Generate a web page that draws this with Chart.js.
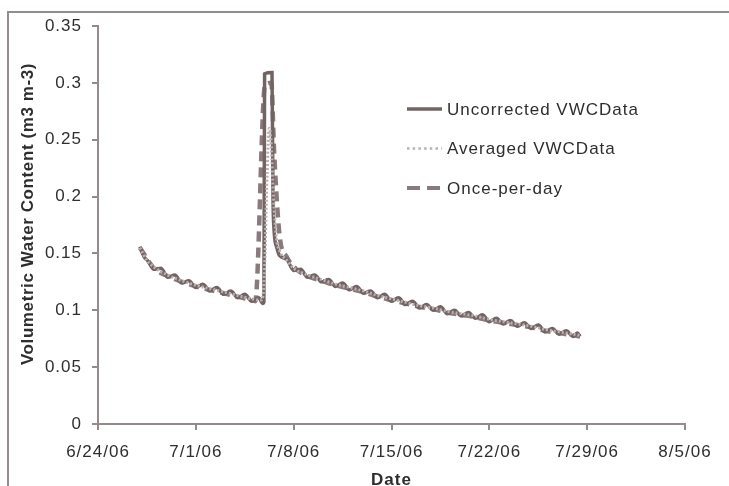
<!DOCTYPE html>
<html>
<head>
<meta charset="utf-8">
<script src="https://cdn.jsdelivr.net/npm/chart.js@4.4.0/dist/chart.umd.min.js"></script>
<style>
  html, body { margin: 0; padding: 0; background: #fff; overflow: hidden; }
  #wrap { width: 729px; height: 492px; }
</style>
</head>
<body>
<div id="wrap"><canvas id="vwcChart" width="729" height="492"></canvas></div>
<script>
// x values are days after 6/24/06
const xTickLabels = ["6/24/06", "7/1/06", "7/8/06", "7/15/06", "7/22/06", "7/29/06", "8/5/06"];

const uncorrectedDays = [3.0, 3.3, 3.6, 4.0, 4.5, 5.0, 5.5, 6.0, 6.5, 7.0, 7.5, 8.0, 8.5, 9.0, 9.5, 10.0, 10.5, 11.0, 11.5, 11.8, 11.87,
  11.92, 12.45, 12.52, 12.6, 12.8, 13.0, 13.5, 14.0, 14.5, 15.0, 15.5, 16.0, 16.5, 17.0, 17.5, 18.0, 18.5, 19.0, 19.5,
  20.0, 20.5, 21.0, 21.5, 22.0, 22.5, 23.0, 23.5, 24.0, 24.5, 25.0, 25.5, 26.0, 26.5, 27.0, 27.5, 28.0, 28.5, 29.0, 29.5,
  30.0, 30.5, 31.0, 31.5, 32.0, 32.5, 33.0, 33.5, 34.0, 34.3, 34.5];
const uncorrectedVWC = [0.156, 0.147, 0.143, 0.136, 0.137, 0.129, 0.131, 0.124, 0.126, 0.120, 0.123, 0.117, 0.120, 0.114, 0.117, 0.111, 0.114, 0.108, 0.111, 0.106, 0.107,
  0.308, 0.309, 0.200, 0.170, 0.155, 0.148, 0.145, 0.135, 0.136, 0.129, 0.131, 0.125, 0.127, 0.121, 0.124, 0.118, 0.121, 0.115, 0.117,
  0.111, 0.114, 0.108, 0.111, 0.105, 0.108, 0.102, 0.105, 0.100, 0.103, 0.097, 0.100, 0.095, 0.098, 0.093, 0.096, 0.090, 0.093, 0.088, 0.091,
  0.086, 0.089, 0.084, 0.087, 0.081, 0.084, 0.079, 0.082, 0.077, 0.080, 0.077];

const averagedDays = [3.0, 3.5, 4.0, 5.0, 6.0, 7.0, 8.0, 9.0, 10.0, 11.0, 11.7, 11.9, 12.1, 12.25, 12.4, 12.55, 12.75, 13.0, 13.5,
  14.0, 15.0, 16.0, 17.0, 18.0, 19.0, 20.0, 21.0, 22.0, 23.0, 24.0, 25.0, 26.0, 27.0, 28.0, 29.0, 30.0, 31.0, 32.0, 33.0, 34.0, 34.5];
const averagedVWC = [0.155, 0.144, 0.138, 0.131, 0.126, 0.122, 0.119, 0.116, 0.113, 0.110, 0.109, 0.130, 0.220, 0.260, 0.245, 0.200, 0.165, 0.152, 0.144,
  0.137, 0.131, 0.127, 0.123, 0.120, 0.117, 0.113, 0.110, 0.107, 0.104, 0.102, 0.099, 0.097, 0.095, 0.092, 0.090, 0.088, 0.086, 0.083, 0.081, 0.079, 0.078];

const dailyDays = [3.0, 4.0, 5.0, 6.0, 7.0, 8.0, 9.0, 10.0, 11.0, 11.25, 11.95, 12.4, 12.6, 13.0, 13.5, 14.2,
  15.0, 16.0, 17.0, 18.0, 19.0, 20.0, 21.0, 22.0, 23.0, 24.0, 25.0, 26.0, 27.0, 28.0, 29.0, 30.0, 31.0, 32.0, 33.0, 34.0, 34.5];
const dailyVWC = [0.155, 0.137, 0.130, 0.125, 0.121, 0.118, 0.115, 0.112, 0.109, 0.108, 0.298, 0.300, 0.240, 0.165, 0.147, 0.136,
  0.130, 0.126, 0.122, 0.119, 0.116, 0.112, 0.109, 0.106, 0.103, 0.101, 0.098, 0.096, 0.094, 0.091, 0.089, 0.087, 0.085, 0.082, 0.080, 0.078, 0.077];

function toPoints(days, vals) {
  return days.map((d, i) => ({ x: d, y: vals[i] }));
}

const axisColor = '#978a8a';
const textColor = '#2e2e2e';
const fontFamily = '"Liberation Sans", Arial, sans-serif';
const baseFont = { family: fontFamily, size: 17 };

// letter spacing so the text width matches the original, plus the outer frame
const spacingPlugin = {
  id: 'spacing',
  beforeUpdate(chart) { chart.ctx.letterSpacing = '1px'; },
  beforeDraw(chart) {
    const ctx = chart.ctx;
    ctx.letterSpacing = '1px';
    ctx.save();
    ctx.strokeStyle = axisColor;
    ctx.lineWidth = 2;
    ctx.strokeRect(8, 12, 800, 600);
    ctx.restore();
  }
};

const labelsPlugin = {
  id: 'insideLegend',
  afterDraw(chart) {
    const ctx = chart.ctx;
    ctx.save();
    chart.data.datasets.forEach((ds, i) => {
      const y = 109 + i * 39.5;
      ctx.beginPath();
      ctx.strokeStyle = ds.borderColor;
      ctx.lineWidth = ds.legendWidth;
      ctx.setLineDash(ds.legendDash);
      ctx.moveTo(407, y);
      ctx.lineTo(442, y);
      ctx.stroke();
      ctx.setLineDash([]);
      ctx.fillStyle = textColor;
      ctx.font = '17px ' + fontFamily;
      ctx.textBaseline = 'middle';
      ctx.fillText(ds.label, 447, y + 1);
    });
    // y axis title, centred a bit above the middle of the axis as in the original
    ctx.letterSpacing = '0.6px';
    ctx.font = 'bold 17px ' + fontFamily;
    ctx.translate(28, 214);
    ctx.rotate(-Math.PI / 2);
    ctx.textAlign = 'center';
    ctx.textBaseline = 'middle';
    ctx.fillText('Volumetric Water Content (m3 m-3)', 0, 0);
    ctx.restore();
  }
};

const ctx = document.getElementById('vwcChart').getContext('2d');
new Chart(ctx, {
  type: 'line',
  data: {
    datasets: [
      {
        label: 'Uncorrected VWCData',
        data: toPoints(uncorrectedDays, uncorrectedVWC),
        borderColor: '#736464',
        borderWidth: 3.5,
        legendWidth: 3.5,
        legendDash: [],
        pointRadius: 0,
        order: 1,
        cubicInterpolationMode: 'monotone'
      },
      {
        label: 'Averaged VWCData',
        data: toPoints(averagedDays, averagedVWC),
        borderColor: '#bbb1b1',
        borderWidth: 3,
        borderDash: [2, 2],
        legendWidth: 2.5,
        legendDash: [2.5, 3.2],
        pointRadius: 0,
        order: 0,
        cubicInterpolationMode: 'monotone'
      },
      {
        label: 'Once-per-day',
        data: toPoints(dailyDays, dailyVWC),
        borderColor: '#8a7a7c',
        borderWidth: 4.5,
        borderDash: [10, 6],
        legendWidth: 4,
        legendDash: [13, 7],
        pointRadius: 0,
        order: 2,
        cubicInterpolationMode: 'monotone'
      }
    ]
  },
  options: {
    responsive: false,
    animation: false,
    layout: { padding: { left: 0, top: 26, right: 44, bottom: 0 } },
    plugins: {
      legend: { display: false },
      tooltip: { enabled: false }
    },
    scales: {
      x: {
        type: 'linear',
        min: 0,
        max: 42,
        afterFit: s => { s.height = 68; },
        ticks: {
          stepSize: 7,
          autoSkip: false,
          maxRotation: 0,
          padding: 12,
          color: textColor,
          font: baseFont,
          callback: v => xTickLabels[Math.round(v / 7)]
        },
        grid: { drawOnChartArea: false, drawTicks: true, tickLength: 6, color: axisColor, lineWidth: 2 },
        border: { color: axisColor, width: 2 },
        title: { display: true, text: 'Date', color: textColor, font: { ...baseFont, weight: 'bold' }, padding: { top: 0, bottom: 1 } }
      },
      y: {
        min: 0,
        max: 0.35,
        afterFit: s => { s.width = 98; },
        ticks: {
          stepSize: 0.05,
          padding: 10,
          color: textColor,
          font: baseFont,
          callback: v => String(+v.toFixed(2))
        },
        grid: { drawOnChartArea: false, drawTicks: true, tickLength: 6, color: axisColor, lineWidth: 2 },
        border: { color: axisColor, width: 2 }
      }
    }
  },
  plugins: [spacingPlugin, labelsPlugin]
});
</script>
</body>
</html>
